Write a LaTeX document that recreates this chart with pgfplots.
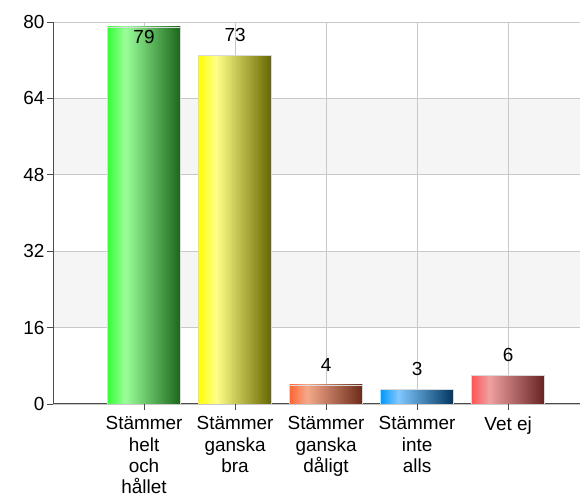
\documentclass[border=0pt]{standalone}
\usepackage{pgfplots}
\pgfplotsset{compat=1.18}
\usepackage{fontspec}
\setmainfont{Liberation Sans}

% bar colours: left edge, highlight, right edge
\definecolor{gA}{HTML}{33FF33}\definecolor{gB}{HTML}{99FF99}\definecolor{gC}{HTML}{1A661A}
\definecolor{yA}{HTML}{FFFF00}\definecolor{yB}{HTML}{FFFF88}\definecolor{yC}{HTML}{666600}
\definecolor{oA}{HTML}{FF6633}\definecolor{oB}{HTML}{F5A98A}\definecolor{oC}{HTML}{6B2A18}
\definecolor{bA}{HTML}{0099FF}\definecolor{bB}{HTML}{80C8FF}\definecolor{bC}{HTML}{00355F}
\definecolor{rA}{HTML}{FF5555}\definecolor{rB}{HTML}{F0A0A0}\definecolor{rC}{HTML}{662222}
\definecolor{band}{HTML}{F5F5F5}
\definecolor{gridc}{HTML}{C8C8C8}

\pgfdeclarehorizontalshading{shg}{100bp}{color(0bp)=(gA); color(25bp)=(gA); color(37bp)=(gB); color(75bp)=(gC); color(100bp)=(gC)}
\pgfdeclarehorizontalshading{shy}{100bp}{color(0bp)=(yA); color(25bp)=(yA); color(37bp)=(yB); color(75bp)=(yC); color(100bp)=(yC)}
\pgfdeclarehorizontalshading{sho}{100bp}{color(0bp)=(oA); color(25bp)=(oA); color(37bp)=(oB); color(75bp)=(oC); color(100bp)=(oC)}
\pgfdeclarehorizontalshading{shb}{100bp}{color(0bp)=(bA); color(25bp)=(bA); color(37bp)=(bB); color(75bp)=(bC); color(100bp)=(bC)}
\pgfdeclarehorizontalshading{shr}{100bp}{color(0bp)=(rA); color(25bp)=(rA); color(37bp)=(rB); color(75bp)=(rC); color(100bp)=(rC)}

\begin{document}
\begin{tikzpicture}[font=\fontsize{19}{21.5}\selectfont]
\pgfplotsset{
  mybar/.style={ybar, bar width=0.8, bar shift=0pt, draw=black!15, line width=0.5bp,
    nodes near coords, nodes near coords style={anchor=south, yshift=10bp, text=black}},
}
\begin{axis}[
  set layers,
  scale only axis, width=527bp, height=382bp,
  xmin=0, xmax=5.79, ymin=0, ymax=80,
  ytick={0,16,...,80},
  xtick={1,2,3,4,5},
  xticklabels={Stämmer\\helt\\och\\hållet, Stämmer\\ganska\\bra, Stämmer\\ganska\\dåligt, Stämmer\\inte\\alls, Vet ej},
  xticklabel style={align=center, yshift=-3bp},
  yticklabel style={xshift=1bp},
  /pgf/number format/assume math mode=true,
  axis x line*=bottom, axis y line*=left,
  grid=major, grid style={color=gridc, line width=0.8bp},
  tick align=outside, major tick length=6bp,
  tick style={color=black!70, line width=0.8bp},
  axis line style={color=black!70, line width=1bp},
]
\begin{pgfonlayer}{axis background}
  \fill[band] (rel axis cs:0,0.2) rectangle (rel axis cs:1,0.4);
  \fill[band] (rel axis cs:0,0.6) rectangle (rel axis cs:1,0.8);
\end{pgfonlayer}
\addplot[mybar, shade, shading=shg, nodes near coords style={anchor=north, yshift=-10bp}] coordinates {(1,79)};
\addplot[mybar, shade, shading=shy] coordinates {(2,73)};
\addplot[mybar, shade, shading=sho] coordinates {(3,4)};
\addplot[mybar, shade, shading=shb] coordinates {(4,3)};
\addplot[mybar, shade, shading=shr] coordinates {(5,6)};
\end{axis}
\path (current axis.south west) ++(-53bp,-96bp) coordinate (bbA);
\path (current axis.north east) ++(0bp,22bp) coordinate (bbB);
\pgfresetboundingbox
\useasboundingbox (bbA) rectangle (bbB);
\end{tikzpicture}
\end{document}
